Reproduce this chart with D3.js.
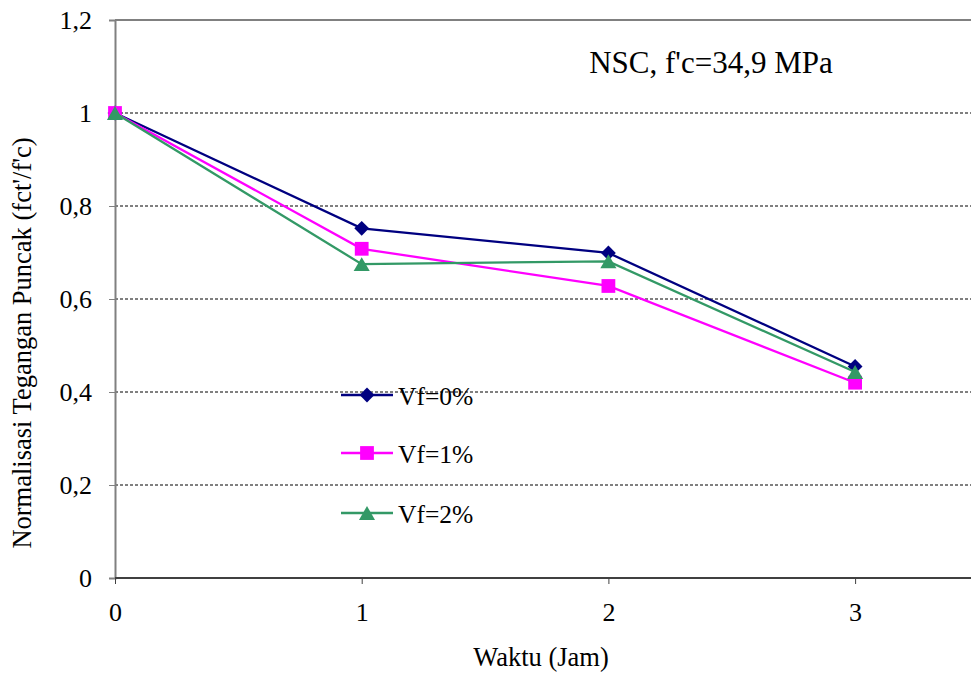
<!DOCTYPE html>
<html>
<head>
<meta charset="utf-8">
<script src="https://cdn.jsdelivr.net/npm/d3@7"></script>
<style>
  html, body { margin: 0; padding: 0; background: #fff; }
  svg { display: block; }
  svg text { font-family: "Liberation Serif", "Times New Roman", serif; fill: #000; }
</style>
</head>
<body>
<svg id="chart" width="971" height="673"></svg>
<script>
// Time after mixing (hours)
const hours = [0, 1, 2, 3];
// Normalised peak stress fct'/f'c per fibre content
const vf0 = [1.0, 0.752, 0.699, 0.455];
const vf1 = [1.0, 0.708, 0.628, 0.420];
const vf2 = [1.0, 0.675, 0.681, 0.443];
const seriesNames = ["Vf=0%", "Vf=1%", "Vf=2%"];
const yTicks = [0, 0.2, 0.4, 0.6, 0.8, 1.0, 1.2];
const xTicks = [0, 1, 2, 3];

// diamond = square turned 45 degrees
const diamond = {
  draw(ctx, size) {
    const r = Math.sqrt(size / 2);
    ctx.moveTo(0, -r); ctx.lineTo(r, 0); ctx.lineTo(0, r); ctx.lineTo(-r, 0); ctx.closePath();
  }
};
// triangle centred on its bounding box
const triangle = {
  draw(ctx, size) {
    const a = Math.sqrt(size * 4 / Math.sqrt(3));
    const h = a * Math.sqrt(3) / 2;
    ctx.moveTo(0, -h / 2); ctx.lineTo(a / 2, h / 2); ctx.lineTo(-a / 2, h / 2); ctx.closePath();
  }
};

const series = [
  { name: seriesNames[0], values: vf0, color: "#000080", symbol: diamond, size: 110 },
  { name: seriesNames[1], values: vf1, color: "#FF00FF", symbol: d3.symbolSquare, size: 190 },
  { name: seriesNames[2], values: vf2, color: "#339966", symbol: triangle, size: 112 }
];

const svg = d3.select("#chart");
const plotLeft = 115, plotTop = 20, plotBottom = 578, plotRight = 971;

const x = d3.scaleLinear().domain([0, 3.5]).range([plotLeft, plotLeft + 3.5 * 246.7]);
const y = d3.scaleLinear().domain([0, 1.2]).range([plotBottom, plotTop]);

const fmt = d => d3.format(".1~f")(d).replace(".", ",");

// dashed gridlines
svg.append("g").selectAll("line")
  .data(yTicks.filter(t => t > 0 && t < 1.2))
  .join("line")
  .attr("x1", plotLeft).attr("x2", plotRight)
  .attr("y1", d => y(d)).attr("y2", d => y(d))
  .attr("stroke", "#000").attr("stroke-width", 1)
  .attr("stroke-dasharray", "3,2");

// top border
svg.append("line")
  .attr("x1", plotLeft).attr("x2", plotRight)
  .attr("y1", y(1.2)).attr("y2", y(1.2))
  .attr("stroke", "#808080").attr("stroke-width", 2);

// y axis
const yAxis = d3.axisLeft(y).tickValues(yTicks).tickFormat(fmt).tickSize(6).tickPadding(17);
const gy = svg.append("g").attr("transform", `translate(${plotLeft},0)`).call(yAxis)
  .attr("font-family", null).attr("font-size", 26);
gy.select(".domain").attr("stroke", "#808080").attr("stroke-width", 2);
gy.selectAll(".tick line").attr("stroke", "#808080");
gy.selectAll("text").attr("fill", "#000");

// x axis
const xAxis = d3.axisBottom(x).tickValues(xTicks).tickFormat(d3.format("d")).tickSize(6).tickPadding(19);
const gx = svg.append("g").attr("transform", `translate(0,${plotBottom})`).call(xAxis)
  .attr("font-family", null).attr("font-size", 26);
gx.select(".domain").attr("stroke", "#404040").attr("stroke-width", 2)
  .attr("d", `M${plotLeft},0H${plotRight}`);
gx.selectAll(".tick line").attr("stroke", "#404040");
gx.selectAll("text").attr("fill", "#000");

// series: line then markers, in series order
const line = d3.line().x((d, i) => x(hours[i])).y(d => y(d));
series.forEach(s => {
  svg.append("path").datum(s.values)
    .attr("d", line).attr("fill", "none")
    .attr("stroke", s.color).attr("stroke-width", 2.3);
  svg.append("g").selectAll("path")
    .data(s.values).join("path")
    .attr("transform", (d, i) => `translate(${x(hours[i])},${y(d)})`)
    .attr("d", d3.symbol().type(s.symbol).size(s.size))
    .attr("fill", s.color);
});

// legend
const legY = [395, 453, 513];
series.forEach((s, i) => {
  const g = svg.append("g").attr("transform", `translate(341,${legY[i]})`);
  g.append("line").attr("x1", 0).attr("x2", 52).attr("stroke", s.color).attr("stroke-width", 2.3);
  g.append("path").attr("transform", "translate(26,0)")
    .attr("d", d3.symbol().type(s.symbol).size(s.size)).attr("fill", s.color);
  g.append("text").attr("x", 57).attr("y", 10).attr("font-size", 25.5).text(s.name);
});

// annotation
svg.append("text").attr("x", 711).attr("y", 73).attr("text-anchor", "middle")
  .attr("font-size", 31).text("NSC, f'c=34,9 MPa");

// axis titles
svg.append("text").attr("x", 541).attr("y", 666).attr("text-anchor", "middle")
  .attr("font-size", 26.5).text("Waktu (Jam)");
svg.append("text").attr("transform", "translate(31,343) rotate(-90)")
  .attr("text-anchor", "middle").attr("font-size", 26.5)
  .text("Normalisasi Tegangan Puncak (fct'/f'c)");
</script>
</body>
</html>
